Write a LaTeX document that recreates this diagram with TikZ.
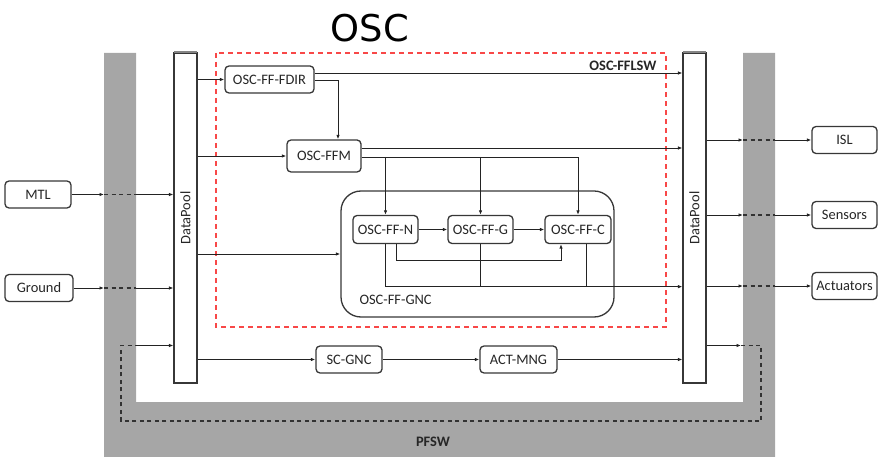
\documentclass[tikz,border=0pt]{standalone}
\usepackage{fontspec}
\setmainfont{Carlito}
\newfontfamily\titlefont{DejaVu Sans}
\usetikzlibrary{arrows.meta}
\definecolor{pfsw}{RGB}{166,166,166}
\definecolor{dashred}{RGB}{248,72,72}
\definecolor{boxline}{RGB}{55,55,55}
\definecolor{wire}{RGB}{35,35,35}
\definecolor{loopc}{RGB}{50,50,50}
\begin{document}
\begin{tikzpicture}[x=1bp,y=-1bp,
  lbl/.style={font=\fontsize{14.5}{16}\selectfont, text=black!85},
  box/.style={lbl, draw=boxline, line width=1.3bp, rounded corners=4bp, fill=white, inner sep=1bp, minimum height=27bp},
  pool/.style={draw=boxline, line width=1.1bp, fill=white, minimum width=23bp, minimum height=330bp, inner sep=0pt},
  tip/.style={-{Latex[length=4.5bp,width=3.5bp]}},
  conn/.style={line width=0.9bp, draw=wire, tip},
  plain/.style={line width=0.9bp, draw=wire},
  gap/.style={line width=1.4bp, draw=loopc, dash pattern=on 4bp off 3.5bp},
]
\useasboundingbox (0,0) rectangle (878,457);

% PFSW grey U
\fill[pfsw] (104,53) -- (136,53) -- (136,402) -- (743,402) -- (743,53) -- (775,53) -- (775,457) -- (104,457) -- cycle;
\node[font=\bfseries\fontsize{14.5}{16}\selectfont, text=black!85] (pfswlbl) at (433,442) {PFSW};
\coordinate (gl1) at (104,0);
\coordinate (gl2) at (136,0);
\coordinate (gr1) at (743,0);
\coordinate (gr2) at (775,0);

% title
\node[font=\titlefont\fontsize{37}{40}\selectfont] (title) at (370,28) {OSC};

% red dashed OSC-FFLSW
\draw[dashred, line width=1.7bp, dash pattern=on 5bp off 4bp] (216,53) rectangle (666,327);
\node[font=\bfseries\fontsize{14.5}{16}\selectfont, anchor=east, text=black!85] (fflsw) at (660,66) {OSC-FFLSW};

% DataPools
\node[pool] (dpL) at (185.5,218) {};
\node[pool] (dpR) at (694.5,218) {};
\draw[pfsw!80!black, line width=2bp] ([xshift=0.5bp]dpL.north west) -- ([xshift=-0.5bp]dpL.north east);
\draw[pfsw!80!black, line width=2bp] ([xshift=0.5bp]dpR.north west) -- ([xshift=-0.5bp]dpR.north east);
\node[lbl, rotate=90] (dpLt) at (185.5,218) {DataPool};
\node[lbl, rotate=90] (dpRt) at (694.5,218) {DataPool};

% GNC group
\node[draw=boxline, line width=1.3bp, rounded corners=20bp, minimum width=273bp, minimum height=126bp, inner sep=0pt] (gnc) at (477.5,254) {};
\node[lbl, anchor=west] (gnclbl) at (356,300) {OSC-FF-GNC};

% blocks
\node[box, minimum width=89bp] (fdir) at (269.5,79.5) {OSC-FF-FDIR};
\node[box, minimum width=74bp, minimum height=32bp] (ffm) at (324,156) {OSC-FFM};
\node[box, minimum width=65bp, minimum height=28bp] (n) at (385.5,229.5) {OSC-FF-N};
\node[box, minimum width=65bp, minimum height=28bp] (g) at (480.5,229.5) {OSC-FF-G};
\node[box, minimum width=66bp, minimum height=28bp] (c) at (578,229.5) {OSC-FF-C};
\node[box, minimum width=66bp] (sc) at (349,359.5) {SC-GNC};
\node[box, minimum width=77bp] (act) at (518.5,359.5) {ACT-MNG};

% external
\node[box, minimum width=66bp] (mtl) at (38,194.5) {MTL};
\node[box, minimum width=68bp] (ground) at (39,288) {Ground};
\node[box, minimum width=65bp] (isl) at (844.5,140) {ISL};
\node[box, minimum width=65bp] (sens) at (844.5,215) {Sensors};
\node[box, minimum width=65bp] (actu) at (844.5,286) {Actuators};

% internal connectors
\draw[conn] (dpL.east |- fdir.west) -- (fdir.west);
\coordinate (f1) at ([yshift=6.5bp]fdir.east);
\draw[conn] (f1) -- (f1 -| dpR.west);
\draw[conn] ([yshift=-0.5bp]fdir.east) -| ([xshift=14bp]ffm.north);
\draw[conn] (dpL.east |- ffm.west) -- (ffm.west);
\coordinate (m1) at ([yshift=8bp]ffm.east);
\draw[conn] (m1) -- (m1 -| dpR.west);
\coordinate (m2) at ([yshift=-1bp]ffm.east);
\draw[conn] (m2) -| (c.north);
\draw[conn] (m2 -| n.north) -- (n.north);
\draw[conn] (m2 -| g.north) -- (g.north);
\draw[conn] (dpL.east |- gnc.west) -- (gnc.west);
\draw[conn] (n) -- (g);
\draw[conn] (g) -- (c);
\coordinate (nc1) at ([xshift=-17bp]c.south);
\draw[conn] ([xshift=10.5bp]n.south) -- ++(0,16.5) -| (nc1);
\path (n.south) ++(0,42.5) coordinate (bus);
\draw[conn] (n.south) |- (bus -| dpR.west);
\draw[plain] (g.south) -- (g.south |- bus);
\draw[plain] ([xshift=8bp]c.south) -- ([xshift=8bp]c.south |- bus);
\draw[conn] (dpL.east |- sc.west) -- (sc.west);
\draw[conn] (sc) -- (act);
\draw[conn] (act.east) -- (act.east -| dpR.west);

% external inputs
\foreach \s in {mtl,ground}{
  \draw[conn] (\s.east) -- (\s.east -| gl1);
  \draw[gap] (\s.east -| gl1) -- (\s.east -| gl2);
  \draw[conn] (\s.east -| gl2) -- (\s.east -| dpL.west);
}
% external outputs
\foreach \s in {isl,sens,actu}{
  \draw[conn] (dpR.east |- \s.west) -- (gr1 |- \s.west);
  \draw[gap] (gr1 |- \s.west) -- (gr2 |- \s.west);
  \draw[conn] (gr2 |- \s.west) -- (\s.west);
}
% loop back
\coordinate (lpA) at (741,345.5);
\coordinate (lpB) at (761,345.5);
\coordinate (lpC) at (761,421);
\coordinate (lpD) at (121,421);
\coordinate (lpE) at (121,345.5);
\coordinate (lpF) at (136,345.5);
\draw[conn] (dpR.east |- lpA) -- (lpA);
\draw[gap] (lpA) -- (lpB) -- (lpC) -- (lpD) -- (lpE) -- (lpF);
\draw[conn] (lpF) -- (lpF -| dpL.west);
\end{tikzpicture}
\end{document}
